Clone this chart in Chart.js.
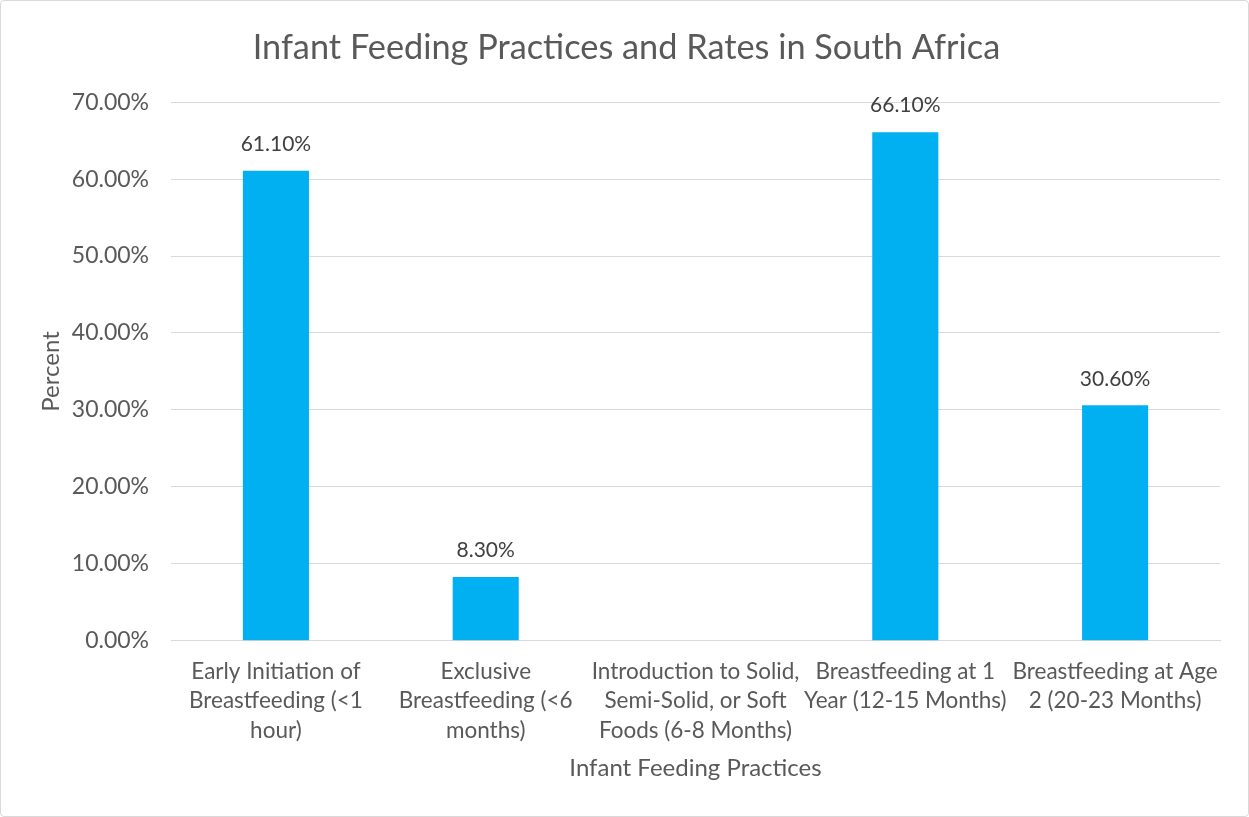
<!DOCTYPE html>
<html>
<head>
<meta charset="utf-8">
<script src="https://cdn.jsdelivr.net/npm/chart.js@4/dist/chart.umd.min.js"></script>
<style>
  html, body { margin: 0; padding: 0; background: #fff; }
  #wrap { width: 1249px; height: 817px; position: relative; box-sizing: border-box; border: 1px solid #D9D9D9; border-radius: 4px; }
</style>
</head>
<body>
<div id="wrap"><canvas id="myChart"></canvas></div>
<script>
const categories = [
  ["Early Initiation of", "Breastfeeding (<1", "hour)"],
  ["Exclusive", "Breastfeeding (<6", "months)"],
  ["Introduction to Solid,", "Semi-Solid, or Soft", "Foods (6-8 Months)"],
  ["Breastfeeding at 1", "Year (12-15 Months)"],
  ["Breastfeeding at Age", "2 (20-23 Months)"]
];
const rates = [61.1, 8.3, null, 66.1, 30.6];
const yMax = 70;
const yStep = 10;

const font = "Lato, 'Open Sans', sans-serif";
const grey = "#595959";

// labels above each bar
const barLabels = {
  id: "barLabels",
  afterDatasetsDraw(chart) {
    const ctx = chart.ctx;
    const meta = chart.getDatasetMeta(0);
    ctx.save();
    ctx.font = "21px " + font;
    ctx.fillStyle = "#404040";
    ctx.textAlign = "center";
    ctx.textBaseline = "bottom";
    meta.data.forEach((bar, i) => {
      const v = rates[i];
      if (v === null) return;
      ctx.fillText(v.toFixed(2) + "%", bar.x, bar.y - 16);
    });
    ctx.restore();
  }
};

new Chart("myChart", {
  type: "bar",
  data: {
    labels: categories,
    datasets: [
      {
        data: rates,
        backgroundColor: "#00B0F0",
        categoryPercentage: 1,
        barPercentage: 0.315,
      },
    ],
  },
  options: {
    responsive: true,
    maintainAspectRatio: false,
    animation: false,
    layout: { padding: { left: 32, right: 28, top: 20, bottom: 29 } },
    plugins: {
      legend: { display: false },
      tooltip: { enabled: false },
      title: {
        display: true,
        text: "Infant Feeding Practices and Rates in South Africa",
        color: grey,
        font: { family: font, size: 34.3, weight: "normal" },
        padding: { top: 6, bottom: 34 },
      },
    },
    scales: {
      x: {
        grid: { display: false },
        border: { color: "#D9D9D9" },
        ticks: {
          color: grey,
          font: { family: font, size: 22.5, lineHeight: 1.31 },
          maxRotation: 0,
          autoSkip: false,
          padding: 8,
        },
        title: {
          display: true,
          text: "Infant Feeding Practices",
          color: grey,
          font: { family: font, size: 24 },
          padding: { top: 1 },
        },
      },
      y: {
        min: 0,
        max: yMax,
        grid: { color: "#D9D9D9", drawTicks: false },
        border: { display: false },
        ticks: {
          stepSize: yStep,
          color: grey,
          font: { family: font, size: 23 },
          padding: 22,
          callback: (v) => v.toFixed(2) + "%",
        },
        title: {
          display: true,
          text: "Percent",
          color: grey,
          font: { family: font, size: 24 },
          padding: { top: 4, bottom: -16 },
        },
      },
    },
  },
  plugins: [barLabels],
});
</script>
</body>
</html>
